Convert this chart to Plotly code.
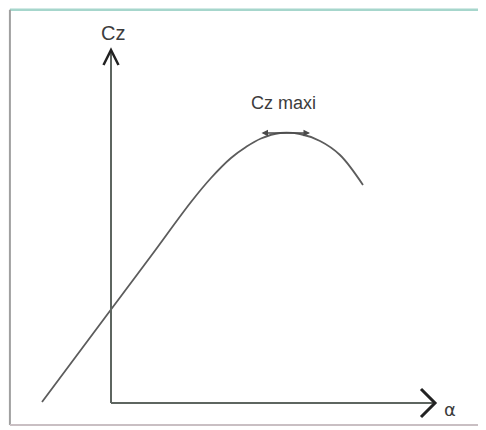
import plotly.graph_objects as go

# lift curve Cz(alpha) (arbitrary units, origin at the axes corner)
alpha = [-6.9, 0.0, 4.0, 8.0, 10.0, 12.0, 13.5, 15.0, 16.9, 18.9, 20.9, 22.9, 25.2]
cz = [0.1, 9.35, 14.7, 20.1, 22.5, 24.5, 25.6, 26.45, 27.0, 26.9, 26.2, 24.8, 21.8]

# axis extents and the "Cz maxi" marker span
alpha_axis_end = 32.2
cz_axis_end = 35.3
cz_max = 27.0
cz_max_span = [14.9, 19.9]

x_label = "α"
y_label = "Cz"
max_label = "Cz maxi"

axis_col = "#5e6560"
curve_col = "#5c5c5c"
text_col = "#3c3c3c"
font = "Liberation Sans, Arial, sans-serif"

fig = go.Figure()
fig.add_trace(go.Scatter(x=alpha, y=cz, mode="lines", line_shape="spline",
                         line=dict(color=curve_col, width=1.8), hoverinfo="skip"))

shapes = [
    # axes
    dict(type="line", x0=0, y0=0, x1=0, y1=cz_axis_end,
         line=dict(color=axis_col, width=2)),
    dict(type="line", x0=0, y0=0, x1=alpha_axis_end, y1=0,
         line=dict(color=axis_col, width=2)),
    # open chevron heads
    dict(type="path",
         path=f"M -0.75 {cz_axis_end - 1.5} L 0 {cz_axis_end} L 0.75 {cz_axis_end - 1.5}",
         line=dict(color="#222", width=2.5)),
    dict(type="path",
         path=(f"M {alpha_axis_end - 1.2} 1.4 L {alpha_axis_end + 0.2} 0 "
               f"L {alpha_axis_end - 1.2} -1.4"),
         line=dict(color="#222", width=3)),
    # picture frame
    dict(type="line", xref="paper", yref="paper", x0=0.004, y0=0.996, x1=0.998, y1=0.996,
         line=dict(color="#a6d6cc", width=2.5)),
    dict(type="line", xref="paper", yref="paper", x0=0.004, y0=0.996, x1=0.004, y1=0.012,
         line=dict(color="#a0a0a0", width=2)),
    dict(type="line", xref="paper", yref="paper", x0=0.004, y0=0.012, x1=0.998, y1=0.012,
         line=dict(color="#c9bfc3", width=2)),
    dict(type="line", xref="paper", yref="paper", x0=0.996, y0=0.996, x1=0.996, y1=0.012,
         line=dict(color="#c4c8c6", width=1.5)),
]

annotations = [
    dict(x=0.2, y=cz_axis_end + 1.7, text=y_label, showarrow=False,
         font=dict(family=font, size=20, color=text_col)),
    dict(x=alpha_axis_end + 0.9, y=-0.6, text=x_label, showarrow=False,
         xanchor="left", font=dict(family="DejaVu Sans, sans-serif", size=18, color=text_col)),
    dict(x=sum(cz_max_span) / 2 - 0.2, y=cz_max + 3.0, text=max_label, showarrow=False,
         font=dict(family=font, size=18, color=text_col)),
    dict(x=cz_max_span[1], y=cz_max, ax=cz_max_span[0], ay=cz_max,
         xref="x", yref="y", axref="x", ayref="y", text="", showarrow=True,
         arrowside="end+start", arrowhead=2, arrowsize=1.0, arrowwidth=1.3,
         arrowcolor="#4a4a4a"),
]

# the page body keeps its default 8px margin, so the figure is 8px smaller each way
fig.update_layout(
    width=478, height=422,
    margin=dict(l=0, r=0, t=0, b=0),
    paper_bgcolor="white", plot_bgcolor="white",
    showlegend=False,
    xaxis=dict(range=[-10.3, 37.5], visible=False, fixedrange=True),
    yaxis=dict(range=[-2.7, 39.5], visible=False, fixedrange=True),
    shapes=shapes,
    annotations=annotations,
)

fig.write_html("out.html")
